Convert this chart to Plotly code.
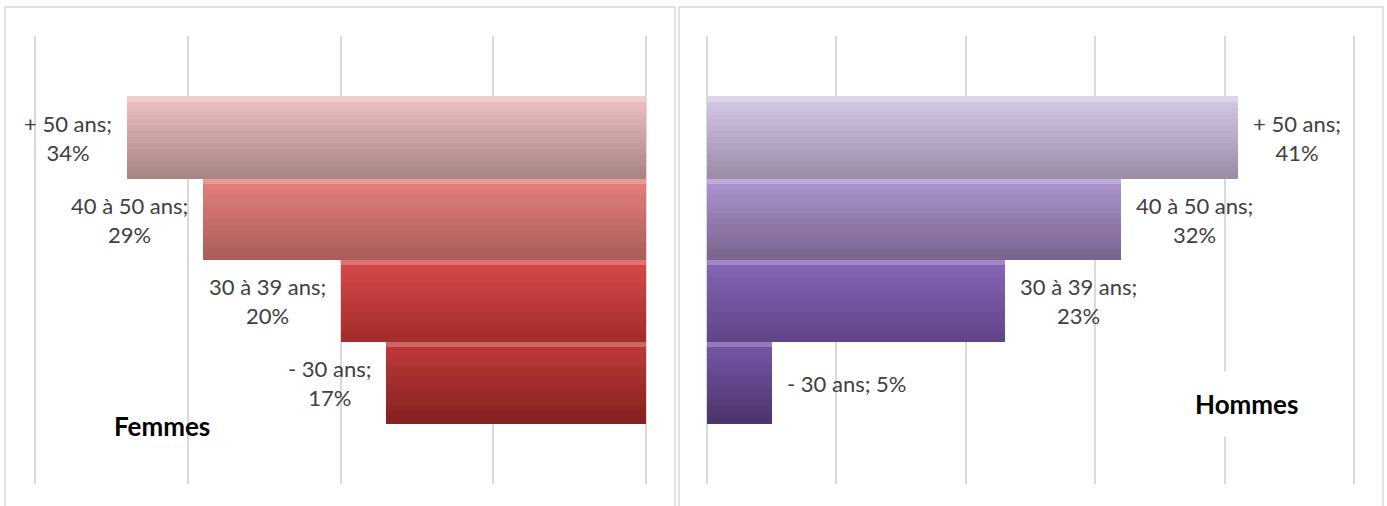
import plotly.graph_objects as go

# ---------------- data ----------------
categories = ["- 30 ans", "30 à 39 ans", "40 à 50 ans", "+ 50 ans"]   # bottom -> top
femmes = [17, 20, 29, 34]
hommes = [5, 23, 32, 41]
hommes_wrap = [False, True, True, True]
femmes_wrap = [True, True, True, True]
panel_titles = ["Femmes", "Hommes"]
x_ticks_f = [0, 10, 20, 30, 40]
x_ticks_h = [0, 10, 20, 30, 40, 50]

# colours (top shade, bottom shade) per category, bottom -> top
femmes_top = ["#bf3a38", "#d64a48", "#e47f7b", "#edc0c0"]
femmes_bot = ["#862222", "#a52d2d", "#ad5e5b", "#a98686"]
hommes_top = ["#7657a6", "#8466b5", "#ad95cf", "#d4c8e6"]
hommes_bot = ["#4d356f", "#62468a", "#7a6590", "#9c8ea9"]

W, H = 1387, 506
N = 14  # gradient bands


def hex2rgb(h):
    h = h.lstrip("#")
    return tuple(int(h[i:i + 2], 16) for i in (0, 2, 4))


def mix(c1, c2, t):
    a, b = hex2rgb(c1), hex2rgb(c2)
    return "rgb(%d,%d,%d)" % tuple(round(a[i] + (b[i] - a[i]) * t) for i in range(3))


def lighten(c, t):
    a = tuple(int(v) for v in c[4:-1].split(","))
    return "rgb(%d,%d,%d)" % tuple(round(v + (255 - v) * t) for v in a)


fig = go.Figure()

def add_panel(values, tops, bots, xa, ya):
    for k in range(N):
        t = k / (N - 1)
        cols = [mix(tops[i], bots[i], t) for i in range(len(values))]
        if k == 0:
            cols = [lighten(c, 0.22) for c in cols]
        fig.add_trace(go.Bar(
            y=categories, x=values, orientation="h",
            width=1.0 / N + 0.012, offset=0.5 - (k + 1) / N,
            marker=dict(color=cols, line=dict(width=0)),
            xaxis=xa, yaxis=ya, showlegend=False, hoverinfo="skip",
        ))

add_panel(femmes, femmes_top, femmes_bot, "x", "y")
add_panel(hommes, hommes_top, hommes_bot, "x2", "y2")

label_font = dict(family="Lato", size=22, color="#404040")
annotations = []
for cat, v, w in zip(categories, femmes, femmes_wrap):
    txt = f"{cat};<br>{v}%" if w else f"{cat}; {v}%"
    annotations.append(dict(x=v, y=cat, xref="x", yref="y", text=txt,
                            showarrow=False, xanchor="right", yanchor="middle",
                            xshift=-13, align="center", font=label_font))
for cat, v, w in zip(categories, hommes, hommes_wrap):
    txt = f"{cat};<br>{v}%" if w else f"{cat}; {v}%"
    annotations.append(dict(x=v, y=cat, xref="x2", yref="y2", text=txt,
                            showarrow=False, xanchor="left", yanchor="middle",
                            xshift=13, align="center", font=label_font))

title_font = dict(family="Lato", size=26, color="#000000")
annotations.append(dict(x=162 / W, y=1 - 426 / H, xref="paper", yref="paper",
                        text=f"<b>{panel_titles[0]}</b>", showarrow=False,
                        xanchor="center", yanchor="middle", font=title_font))
annotations.append(dict(x=1246 / W, y=1 - 404 / H, xref="paper", yref="paper",
                        text=f"<b>{panel_titles[1]}</b>", showarrow=False,
                        xanchor="center", yanchor="middle",
                        font=title_font, bgcolor="white", borderpad=16))

grid = "#d9d9d9"
y_top, y_bot = 1 - 36 / H, 1 - 484 / H
yrange = [-1.234, 4.246]
yax = dict(type="category", categoryorder="array", categoryarray=categories,
           range=yrange, showticklabels=False, showgrid=False, zeroline=False,
           showline=False, ticks="", fixedrange=True)

# small padding so that the edge gridlines are drawn
pf = 2 / (611 / 40)
ph = 2 / (647 / 50)

fig.update_layout(
    width=W, height=H, margin=dict(l=0, r=0, t=0, b=0),
    paper_bgcolor="white", plot_bgcolor="white",
    barmode="overlay", bargap=0,
    font=dict(family="Lato"),
    xaxis=dict(domain=[33 / W, 648 / W], range=[40 + pf, -pf], tickvals=x_ticks_f,
               showticklabels=False, showgrid=True, gridcolor=grid, gridwidth=1.5,
               zeroline=True, zerolinecolor=grid, zerolinewidth=1.5,
               showline=False, ticks="", anchor="y"),
    yaxis=dict(domain=[y_bot, y_top], anchor="x", **yax),
    xaxis2=dict(domain=[705 / W, 1356 / W], range=[-ph, 50 + ph], tickvals=x_ticks_h,
                showticklabels=False, showgrid=True, gridcolor=grid, gridwidth=1.5,
                zeroline=True, zerolinecolor=grid, zerolinewidth=1.5,
                showline=False, ticks="", anchor="y2"),
    yaxis2=dict(domain=[y_bot, y_top], anchor="x2", **yax),
    annotations=annotations,
    shapes=[
        dict(type="rect", xref="paper", yref="paper",
             x0=5 / W, x1=675 / W, y0=-0.05, y1=1 - 7 / H,
             line=dict(color="#d9d9d9", width=1.5), layer="below"),
        dict(type="rect", xref="paper", yref="paper",
             x0=679 / W, x1=1383 / W, y0=-0.05, y1=1 - 7 / H,
             line=dict(color="#d9d9d9", width=1.5), layer="below"),
    ],
)

fig.write_html("out.html")
